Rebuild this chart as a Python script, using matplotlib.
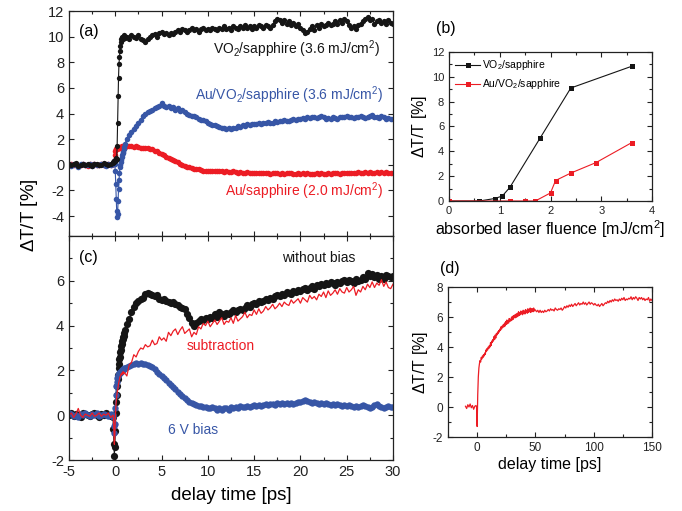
import numpy as np
import matplotlib
matplotlib.use("Agg")
import matplotlib.pyplot as plt
from matplotlib.ticker import MultipleLocator

plt.rcParams['font.family'] = ['Liberation Sans', 'DejaVu Sans']
plt.rcParams['mathtext.fontset'] = 'custom'
plt.rcParams['mathtext.rm'] = 'Liberation Sans'
plt.rcParams['mathtext.it'] = 'Liberation Sans:italic'
plt.rcParams['mathtext.bf'] = 'Liberation Sans:bold'
plt.rcParams['axes.unicode_minus'] = False

# ---------------- data ----------------
# delay grid for panels (a) and (c) [ps]
delay = np.concatenate([np.linspace(-5.0, -0.25, 20),
                        np.linspace(-0.2, 0.95, 24),
                        np.linspace(1.0, 30.0, 117)])

# panel (a): VO2/sapphire (3.6 mJ/cm2)
a_vo2 = [0.1, -0.05, 0.05, 0.15, -0.1, 0.0, 0.1, -0.05, 0.05, 0.0,
         -0.1, 0.1, 0.05, -0.05, 0.0, 0.15, 0.05, -0.05, 0.1, 0.2,
         0.15, 0.3, 0.2, 0.35, 0.3, 0.5, 0.4, 0.45, 1.5, 3.3, 5.4, 6.8,
         7.9, 8.4, 8.9, 9.3, 9.6, 9.8, 9.9, 10.0, 9.8, 10.0, 10.1, 9.9,
         9.9, 10.0, 9.8, 10.1,
         10.0, 9.9, 10.1, 9.8,
         9.7, 9.6, 9.8, 10.0,
         10.1, 10.2, 10.0, 10.3,
         10.4, 10.2, 10.3, 10.1,
         10.3, 10.2, 10.4, 10.5,
         10.4, 10.6, 10.5, 10.4,
         10.5, 10.7, 10.5, 10.6,
         10.4, 10.6, 10.7, 10.5,
         10.6, 10.5, 10.7, 10.6,
         10.5, 10.7, 10.6, 10.8,
         10.6, 10.7, 10.5, 10.8,
         10.7, 10.6, 10.8, 10.7,
         10.9, 10.7, 10.8, 10.6,
         10.8, 10.7, 10.9, 10.8,
         10.7, 10.9, 10.8, 10.7,
         10.9, 11.2, 11.4, 11.3,
         11.1, 11.3, 11.0, 11.2,
         10.9, 11.1, 10.8, 11.0,
         10.7, 10.5, 10.3, 10.4,
         10.6, 10.8, 10.5, 10.9,
         10.7, 11.0, 10.8, 10.9,
         11.1, 10.9, 11.0, 11.2,
         11.0, 11.3, 11.1, 11.4,
         11.2, 10.9, 10.7, 10.8,
         10.6, 10.9, 11.0, 11.2,
         11.4, 11.5, 11.3, 11.4,
         11.0, 11.2, 11.3, 11.1,
         11.2, 11.0, 11.3, 11.1,
         11.0]

# panel (a): Au/VO2/sapphire (3.6 mJ/cm2)
a_auvo2 = [0.05, -0.1, 0.1, 0.0, -0.15, 0.05, 0.1, -0.05, 0.0, 0.1,
           -0.1, 0.05, 0.0, -0.05, 0.1, 0.0, -0.1, 0.05, 0.0, 0.1,
           0.1, 0.2, 0.3, 0.1, -0.5, -1.5, -2.7, -3.6, -4.1, -3.8, -2.8, -1.9,
           -1.2, -0.6, -0.2, 0.0, 0.2, 0.4, 0.6, 0.8, 0.9, 1.0, 1.2, 1.4,
           1.6, 2.0, 2.3, 2.6,
           2.8, 3.0, 3.3, 3.5,
           3.8, 4.0, 4.1, 4.2,
           4.3, 4.4, 4.5, 4.6,
           4.8, 4.6, 4.5, 4.6,
           4.4, 4.5, 4.3, 4.4,
           4.2, 4.3, 4.1, 4.0,
           3.9, 3.8, 3.8, 3.7,
           3.6, 3.5, 3.5, 3.4,
           3.3, 3.2, 3.1, 3.1,
           3.0, 2.95, 2.9, 2.85,
           2.8, 2.9, 2.8, 2.85,
           2.9, 3.0, 2.95, 3.1,
           3.05, 3.15, 3.1, 3.2,
           3.15, 3.2, 3.25, 3.2,
           3.3, 3.25, 3.35, 3.3,
           3.3, 3.4, 3.35, 3.45,
           3.4, 3.5, 3.45, 3.4,
           3.5, 3.55, 3.5, 3.6,
           3.55, 3.65, 3.6, 3.7,
           3.65, 3.75, 3.7, 3.65,
           3.7, 3.8, 3.7, 3.6,
           3.65, 3.6, 3.7, 3.65,
           3.6, 3.7, 3.75, 3.7,
           3.8, 3.7, 3.75, 3.65,
           3.7, 3.75, 3.8, 3.7,
           3.65, 3.7, 3.8, 3.85,
           3.7, 3.75, 3.65, 3.8,
           3.7, 3.6, 3.65, 3.6,
           3.6]

# panel (a): Au/sapphire (2.0 mJ/cm2)
a_au = [0.0, 0.05, -0.05, 0.1, 0.0, -0.05, 0.05, 0.0, -0.1, 0.05,
        0.0, 0.05, -0.05, 0.0, 0.05, 0.0, -0.05, 0.05, 0.0, 0.05,
        0.05, 0.1, 0.3, 0.8, 1.1, 1.2, 1.25, 1.3, 1.25, 1.3, 1.35, 1.3,
        1.35, 1.4, 1.35, 1.4, 1.35, 1.4, 1.45, 1.4, 1.4, 1.45, 1.4, 1.45,
        1.4, 1.45, 1.5, 1.45,
        1.4, 1.45, 1.4, 1.35,
        1.35, 1.3, 1.3, 1.25,
        1.2, 1.1, 1.05, 0.95,
        0.85, 0.75, 0.65, 0.55,
        0.45, 0.35, 0.3, 0.2,
        0.1, 0.0, -0.1, -0.15,
        -0.2, -0.25, -0.3, -0.35,
        -0.35, -0.4, -0.45, -0.45,
        -0.45, -0.5, -0.45, -0.5,
        -0.5, -0.45, -0.5, -0.55,
        -0.5, -0.55, -0.55, -0.5,
        -0.55, -0.6, -0.55, -0.6,
        -0.6, -0.55, -0.6, -0.65,
        -0.6, -0.65, -0.6, -0.6,
        -0.65, -0.6, -0.65, -0.7,
        -0.65, -0.6, -0.65, -0.7,
        -0.65, -0.7, -0.65, -0.6,
        -0.65, -0.7, -0.7, -0.65,
        -0.7, -0.65, -0.7, -0.65,
        -0.7, -0.75, -0.7, -0.65,
        -0.7, -0.65, -0.7, -0.7,
        -0.65, -0.7, -0.65, -0.6,
        -0.65, -0.7, -0.65, -0.6,
        -0.6, -0.65, -0.6, -0.65,
        -0.6, -0.55, -0.6, -0.6,
        -0.55, -0.6, -0.55, -0.6,
        -0.6, -0.55, -0.6, -0.55,
        -0.6, -0.55, -0.6, -0.6,
        -0.6]

# panel (c): without bias
c_nobias = [0.0, 0.1, -0.05, 0.05, 0.0, -0.1, 0.1, 0.05, 0.0, -0.05,
            0.05, 0.1, 0.0, -0.1, 0.05, 0.0, 0.1, 0.0, -0.05, -0.1,
            -0.6, -1.3, -1.8, -1.4, -0.7, 0.1, 0.6, 0.9, 1.3, 1.6, 1.8, 2.1,
            2.3, 2.5, 2.6, 2.8, 2.9, 3.1, 3.2, 3.3, 3.4, 3.5, 3.55, 3.65,
            3.8, 4.05, 4.3, 4.6,
            4.85, 5.0, 5.1, 5.2,
            5.25, 5.4, 5.45, 5.4,
            5.35, 5.3, 5.35, 5.2,
            5.15, 5.2, 5.1, 5.05,
            5.0, 5.05, 4.95, 4.9,
            4.85, 4.8, 4.75, 4.5,
            4.35, 4.1, 4.0, 4.1,
            4.2, 4.3, 4.25, 4.35,
            4.3, 4.4, 4.35, 4.5,
            4.4, 4.6, 4.5, 4.45,
            4.55, 4.5, 4.6, 4.7,
            4.6, 4.7, 4.75, 4.7,
            4.8, 4.9, 4.85, 4.95,
            5.0, 4.95, 5.1, 5.05,
            5.1, 5.2, 5.15, 5.25,
            5.2, 5.3, 5.35, 5.3,
            5.4, 5.35, 5.5, 5.45,
            5.4, 5.55, 5.5, 5.6,
            5.55, 5.65, 5.7, 5.6,
            5.7, 5.75, 5.65, 5.8,
            5.75, 5.85, 5.8, 5.9,
            5.85, 5.95, 5.9, 5.8,
            5.95, 5.9, 6.0, 6.05,
            5.95, 6.05, 6.0, 5.9,
            6.1, 6.0, 6.05, 6.15,
            6.1, 6.35, 6.2, 6.3,
            6.15, 6.25, 6.1, 6.2,
            6.1, 6.25, 6.2, 6.15,
            6.2]

# panel (c): 6 V bias
c_bias = [0.1, 0.05, -0.05, 0.0, -0.1, 0.05, 0.0, 0.1, 0.0, -0.05,
          0.05, 0.0, 0.1, -0.05, 0.0, 0.05, 0.0, -0.05, 0.05, 0.0,
          -0.1, -0.5, -0.8, -0.4, 0.3, 0.9, 1.3, 1.5, 1.65, 1.75, 1.8, 1.85,
          1.85, 1.9, 1.9, 1.95, 1.95, 1.95, 2.0, 2.0, 2.0, 2.05, 2.05, 2.1,
          2.1, 2.15, 2.2, 2.25,
          2.3, 2.35, 2.3, 2.35,
          2.3, 2.3, 2.25, 2.2,
          2.15, 2.05, 1.95, 1.85,
          1.75, 1.65, 1.55, 1.45,
          1.35, 1.25, 1.15, 1.05,
          0.95, 0.85, 0.75, 0.7,
          0.6, 0.55, 0.5, 0.45,
          0.4, 0.4, 0.35, 0.35,
          0.3, 0.3, 0.35, 0.3,
          0.25, 0.3, 0.25, 0.3,
          0.3, 0.25, 0.35, 0.3,
          0.35, 0.3, 0.4, 0.35,
          0.35, 0.4, 0.35, 0.4,
          0.45, 0.4, 0.45, 0.4,
          0.45, 0.5, 0.45, 0.5,
          0.5, 0.45, 0.55, 0.5,
          0.55, 0.5, 0.55, 0.5,
          0.55, 0.5, 0.55, 0.6,
          0.6, 0.65, 0.7, 0.65,
          0.6, 0.55, 0.6, 0.55,
          0.5, 0.55, 0.5, 0.55,
          0.5, 0.45, 0.5, 0.45,
          0.5, 0.45, 0.4, 0.45,
          0.4, 0.45, 0.4, 0.35,
          0.4, 0.35, 0.4, 0.45,
          0.4, 0.35, 0.3, 0.35,
          0.45, 0.5, 0.4, 0.35,
          0.3, 0.35, 0.4, 0.35,
          0.35]

# panel (c): subtraction
c_sub = [0.0, 0.1, -0.1, 0.05, 0.3, 0.0, -0.1, 0.05, 0.0, -0.05,
         0.1, -0.05, 0.0, 0.1, -0.05, 0.05, 0.0, 0.1, -0.1, 0.0,
         -0.1, -0.6, -1.3, -0.9, -0.2, 0.3, 0.6, 0.8, 1.0, 1.1, 1.25, 1.4,
         1.5, 1.6, 1.7, 1.75, 1.8, 1.85, 1.8, 1.9, 1.85, 1.95, 1.9, 1.85,
         1.9, 1.75, 2.25, 2.35,
         2.7, 2.6, 2.85, 3.0,
         2.95, 3.15, 3.05, 3.1,
         3.35, 3.15, 3.2, 3.5,
         3.35, 3.45, 3.3, 3.7,
         3.55, 3.75, 3.85, 3.6,
         3.8, 3.95, 3.65, 3.75,
         3.85, 3.5, 3.7, 3.6,
         3.95, 3.85, 4.1, 4.0,
         4.2, 3.95, 4.1, 4.25,
         4.05, 4.2, 4.35, 4.05,
         4.2, 4.15, 4.35, 4.1,
         4.45, 4.2, 4.3, 4.4,
         4.6, 4.35, 4.5, 4.45,
         4.7, 4.5, 4.75, 4.55,
         4.65, 4.85, 4.7, 4.8,
         4.95, 4.75, 4.85, 5.0,
         4.85, 5.05, 4.95, 4.9,
         5.15, 5.0, 5.1, 5.2,
         5.0, 5.25, 5.15, 5.05,
         5.35, 5.2, 5.3, 5.15,
         5.4, 5.3, 5.5, 5.25,
         5.55, 5.35, 5.45, 5.6,
         5.4, 5.65, 5.5, 5.45,
         5.7, 5.5, 5.6, 5.75,
         5.35, 5.6, 5.5, 5.75,
         5.6, 5.85, 5.7, 5.95,
         5.7, 5.9, 5.8, 6.05,
         5.75, 5.95, 5.7, 5.65,
         5.85]

# panel (b): fluence dependence
fluence_vo2 = [0.0, 0.6, 0.9, 1.05, 1.2, 1.8, 2.4, 3.6]
dtt_vo2 = [0.0, 0.0, 0.2, 0.4, 1.1, 5.1, 9.1, 10.85]
fluence_auvo2 = [0.0, 1.2, 1.5, 1.7, 2.0, 2.1, 2.4, 2.9, 3.6]
dtt_auvo2 = [0.0, 0.0, 0.0, 0.0, 0.65, 1.65, 2.25, 3.1, 4.7]

# panel (d): long delay scan
delay_d = np.concatenate([np.linspace(-10.0, -1.0, 10),
                          np.linspace(-0.5, 2.0, 6),
                          np.linspace(2.5, 50.0, 96),
                          np.linspace(51.0, 150.0, 100)])
d_sig = [0.05, -0.1, 0.15, 0.0, 0.2, -0.05, 0.1, -0.15, 0.05, 0.1,
         0.0, -1.3, 0.8, 2.0, 2.6, 2.9,
         3.1, 3.0, 3.3, 3.2, 3.4, 3.3, 3.5, 3.4, 3.6, 3.5,
         3.8, 3.7, 3.9, 3.8, 4.0, 3.9, 4.1, 4.0, 4.3, 4.1,
         4.4, 4.3, 4.5, 4.4, 4.7, 4.5, 4.8, 4.6, 4.9, 4.8,
         5.0, 4.9, 5.1, 5.0, 5.2, 5.1, 5.35, 5.2, 5.4, 5.3,
         5.5, 5.35, 5.6, 5.4, 5.7, 5.5, 5.8, 5.55, 5.75, 5.6,
         5.9, 5.7, 5.85, 5.75, 6.0, 5.8, 6.05, 5.85, 6.1, 5.95,
         6.15, 5.95, 6.2, 6.0, 6.25, 6.05, 6.35, 6.1, 6.3, 6.15,
         6.4, 6.2, 6.35, 6.15, 6.45, 6.25, 6.4, 6.2, 6.5, 6.3,
         6.45, 6.25, 6.55, 6.3, 6.5, 6.35, 6.6, 6.3, 6.55, 6.4,
         6.55, 6.35, 6.6, 6.4, 6.5, 6.45,
         6.35, 6.45, 6.3, 6.45, 6.3, 6.4, 6.3, 6.45, 6.35, 6.4,
         6.5, 6.4, 6.55, 6.45, 6.5, 6.4, 6.6, 6.5, 6.45, 6.55,
         6.5, 6.6, 6.45, 6.55, 6.7, 6.6, 6.75, 6.65, 6.8, 6.7,
         6.85, 6.7, 6.8, 6.9, 6.75, 6.85, 6.95, 6.8, 6.9, 6.85,
         7.0, 6.85, 6.95, 6.8, 6.9, 7.0, 6.85, 6.95, 6.9, 6.8,
         6.9, 6.8, 6.75, 6.85, 6.7, 6.8, 6.9, 6.75, 6.85, 6.95,
         6.9, 7.05, 6.95, 7.1, 7.0, 7.15, 7.05, 7.2, 7.1, 7.15,
         7.05, 7.2, 7.1, 7.25, 7.15, 7.3, 7.1, 7.2, 7.15, 7.25,
         7.2, 7.35, 7.15, 7.3, 7.2, 7.35, 7.25, 7.1, 7.3, 7.2,
         7.3, 7.15, 7.25, 7.1, 7.2, 7.15, 7.3, 7.05, 7.2, 7.1]

# ---------------- style ----------------
BLACK = '#151515'
BLUE = '#3756a6'
RED = '#ec1c24'
W, H = 682, 511

fig = plt.figure(figsize=(W / 100, H / 100), dpi=100)

def box(x0, y0, x1, y1):
    return [x0 / W, 1 - y1 / H, (x1 - x0) / W, (y1 - y0) / H]

ax_a = fig.add_axes(box(69, 11, 393, 236))
ax_c = fig.add_axes(box(69, 236, 393, 460))
ax_b = fig.add_axes(box(449, 52, 652, 201))
ax_d = fig.add_axes(box(448, 287, 652, 437))

def style(ax, size):
    ax.tick_params(which='both', direction='in', top=True, right=True,
                   labelsize=size, width=0.8, colors='#222222')
    ax.tick_params(which='major', length=3.5)
    ax.tick_params(which='minor', length=2)
    for s in ax.spines.values():
        s.set_linewidth(0.9)
        s.set_color('#222222')

# ----- panel (a) -----
ax_a.plot(delay, a_au, '-o', color=RED, ms=4.0, lw=0.8, mew=0)
ax_a.plot(delay, a_auvo2, '-o', color=BLUE, ms=4.0, lw=0.8, mew=0)
ax_a.plot(delay, a_vo2, '-o', color=BLACK, ms=3.8, lw=0.8, mew=0)
ax_a.set_xlim(-5, 30)
ax_a.set_ylim(-5.55, 12)
ax_a.xaxis.set_major_locator(MultipleLocator(5))
ax_a.xaxis.set_minor_locator(MultipleLocator(2.5))
ax_a.set_yticks([-4, -2, 0, 2, 4, 6, 8, 10, 12])
ax_a.tick_params(labelbottom=False)
style(ax_a, 10.5)
ax_a.text(0.03, 0.91, '(a)', transform=ax_a.transAxes, fontsize=11.5,
          ha='left', va='center')
ax_a.text(28.6, 8.63, 'VO$_2$/sapphire (3.6 mJ/cm$^2$)', color=BLACK,
          fontsize=10, ha='right', va='baseline')
ax_a.text(28.9, 5.04, 'Au/VO$_2$/sapphire (3.6 mJ/cm$^2$)', color=BLUE,
          fontsize=10, ha='right', va='baseline')
ax_a.text(28.9, -2.44, 'Au/sapphire (2.0 mJ/cm$^2$)', color=RED,
          fontsize=10, ha='right', va='baseline')

# ----- panel (c) -----
ax_c.plot(delay, c_nobias, '-o', color=BLACK, ms=5.2, lw=0.8, mew=0)
ax_c.plot(delay, c_bias, '-o', color=BLUE, ms=4.6, lw=0.8, mew=0)
ax_c.plot(delay, c_sub, '-', color=RED, lw=0.9)
ax_c.set_xlim(-5, 30)
ax_c.set_ylim(-2, 8)
ax_c.xaxis.set_major_locator(MultipleLocator(5))
ax_c.xaxis.set_minor_locator(MultipleLocator(2.5))
ax_c.yaxis.set_major_locator(MultipleLocator(2))
ax_c.yaxis.set_minor_locator(MultipleLocator(1))
ax_c.set_yticks([-2, 0, 2, 4, 6])
style(ax_c, 10.5)
ax_c.set_xlabel('delay time [ps]', fontsize=13.5, labelpad=6)
ax_c.text(0.03, 0.906, '(c)', transform=ax_c.transAxes, fontsize=11.5,
          ha='left', va='center')
ax_c.text(22.0, 6.86, 'without bias', color=BLACK, fontsize=10,
          ha='center', va='baseline')
ax_c.text(11.4, 2.93, 'subtraction', color=RED, fontsize=10,
          ha='center', va='baseline')
ax_c.text(8.35, -0.84, '6 V bias', color=BLUE, fontsize=10,
          ha='center', va='baseline')

fig.text(30 / W, 1 - 215 / H, r'$\Delta$T/T [%]', rotation=90,
         fontsize=13.5, ha='center', va='center')

# ----- panel (b) -----
ax_b.plot(fluence_vo2, dtt_vo2, '-s', color=BLACK, ms=3.6, lw=0.8,
          mew=0, label='VO$_2$/sapphire')
ax_b.plot(fluence_auvo2, dtt_auvo2, '-s', color=RED, ms=3.6, lw=0.8,
          mew=0, label='Au/VO$_2$/sapphire')
ax_b.set_xlim(0, 4)
ax_b.set_ylim(0, 12)
ax_b.xaxis.set_major_locator(MultipleLocator(1))
ax_b.xaxis.set_minor_locator(MultipleLocator(0.5))
ax_b.yaxis.set_major_locator(MultipleLocator(2))
ax_b.yaxis.set_minor_locator(MultipleLocator(1))
style(ax_b, 8)
ax_b.set_xlabel('absorbed laser fluence [mJ/cm$^2$]', fontsize=11.5, labelpad=2)
ax_b.set_ylabel(r'$\Delta$T/T [%]', fontsize=11.5, labelpad=2)
ax_b.legend(loc='upper left', frameon=False, fontsize=7.5, handlelength=2.4,
            handletextpad=0.2, labelspacing=0.5, borderaxespad=0.2)
fig.text(436 / W, 1 - 28 / H, '(b)', fontsize=11.5, ha='left', va='center')

# ----- panel (d) -----
ax_d.plot(delay_d, d_sig, '-', color=RED, lw=0.9)
ax_d.set_xlim(-25, 150)
ax_d.set_ylim(-2, 8)
ax_d.xaxis.set_major_locator(MultipleLocator(50))
ax_d.xaxis.set_minor_locator(MultipleLocator(25))
ax_d.yaxis.set_major_locator(MultipleLocator(2))
ax_d.yaxis.set_minor_locator(MultipleLocator(1))
style(ax_d, 8.5)
ax_d.set_xlabel('delay time [ps]', fontsize=11.5, labelpad=2)
ax_d.set_ylabel(r'$\Delta$T/T [%]', fontsize=11.5, labelpad=2)
fig.text(440 / W, 1 - 268 / H, '(d)', fontsize=11.5, ha='left', va='center')

fig.savefig('out.png', dpi=100)
